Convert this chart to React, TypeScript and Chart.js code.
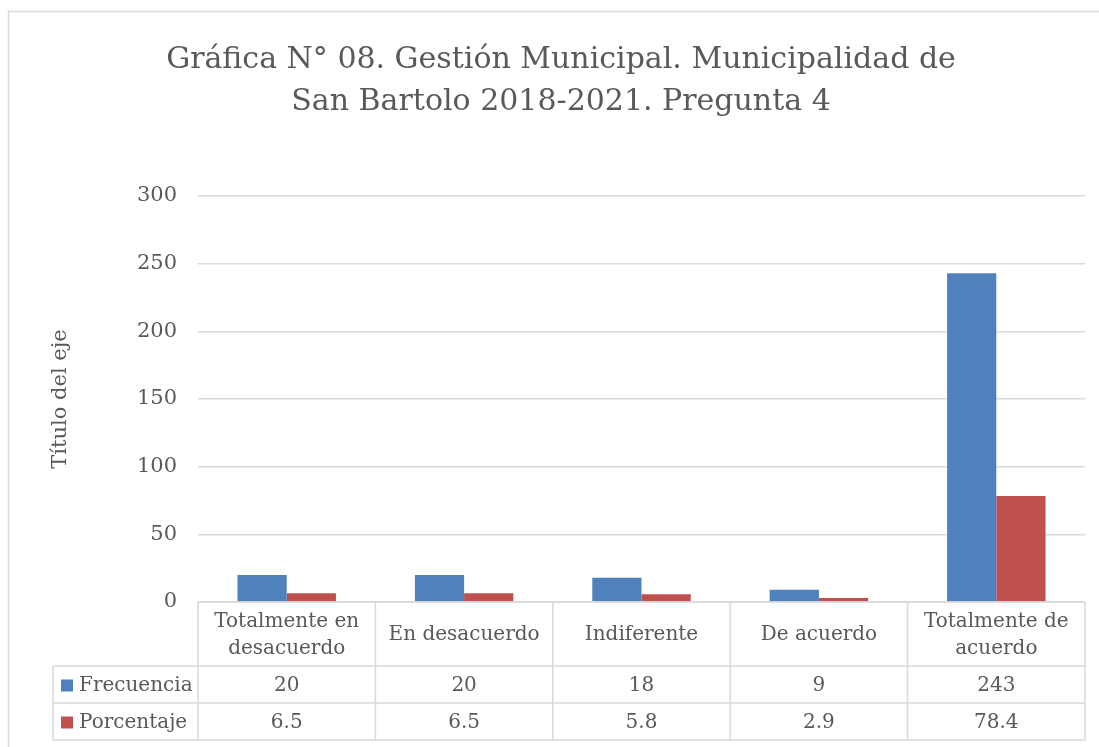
import React, { useEffect, useRef } from "react";
import { Chart, registerables } from "chart.js";
Chart.register(...registerables);

const titleLines = [
  "Gráfica N° 08. Gestión Municipal. Municipalidad de",
  "San Bartolo 2018-2021. Pregunta 4",
];
const categories = [
  "Totalmente en desacuerdo",
  "En desacuerdo",
  "Indiferente",
  "De acuerdo",
  "Totalmente de acuerdo",
];
const seriesNames = ["Frecuencia", "Porcentaje"];
const frecuencia = [20, 20, 18, 9, 243];
const porcentaje = [6.5, 6.5, 5.8, 2.9, 78.4];
const yAxisTitle = "Título del eje";
const yMin = 0;
const yMax = 300;
const yStep = 50;

const FONT = "'DejaVu Serif', serif";
const TEXT = "#595959";
const LINE = "#d9d9d9";
const COLORS = ["#4F81BD", "#C0504D"];

function wrap(ctx: CanvasRenderingContext2D, text: string, maxW: number): string[] {
  const words = text.split(" ");
  const lines: string[] = [];
  let cur = "";
  for (const w of words) {
    const t = cur ? cur + " " + w : w;
    if (ctx.measureText(t).width > maxW && cur) {
      lines.push(cur);
      cur = w;
    } else cur = t;
  }
  if (cur) lines.push(cur);
  return lines;
}

const decorPlugin = {
  id: "decor",
  afterDraw(chart: any) {
    const ctx: CanvasRenderingContext2D = chart.ctx;
    const area = chart.chartArea;
    const xs = chart.scales.x;
    ctx.save();
    // outer border
    ctx.strokeStyle = LINE;
    ctx.lineWidth = 1.5;
    ctx.beginPath();
    ctx.moveTo(8.5, 760);
    ctx.lineTo(8.5, 11.5);
    ctx.lineTo(1120, 11.5);
    ctx.stroke();

    // title
    ctx.fillStyle = TEXT;
    ctx.font = `30px ${FONT}`;
    ctx.textAlign = "center";
    ctx.textBaseline = "alphabetic";
    titleLines.forEach((l, i) => ctx.fillText(l, 561, 68 + i * 42));

    // data table
    const n = categories.length;
    const catW = (area.right - area.left) / n;
    const top = area.bottom;
    const headerH = 64;
    const rowH = 37;
    const legendLeft = 53;
    const bottom = top + headerH + rowH * seriesNames.length;
    ctx.strokeStyle = LINE;
    ctx.lineWidth = 1.5;
    ctx.beginPath();
    // horizontal lines
    ctx.moveTo(area.left, top);
    ctx.lineTo(area.right, top);
    for (let r = 0; r <= seriesNames.length; r++) {
      const y = top + headerH + r * rowH;
      ctx.moveTo(legendLeft, y);
      ctx.lineTo(area.right, y);
    }
    // vertical lines
    ctx.moveTo(legendLeft, top + headerH);
    ctx.lineTo(legendLeft, bottom);
    for (let i = 0; i <= n; i++) {
      const x = area.left + i * catW;
      ctx.moveTo(x, top);
      ctx.lineTo(x, bottom);
    }
    ctx.stroke();

    ctx.font = `20px ${FONT}`;
    ctx.fillStyle = TEXT;
    ctx.textAlign = "center";
    ctx.textBaseline = "middle";
    categories.forEach((c, i) => {
      const cx = xs.getPixelForValue(i);
      const lines = wrap(ctx, c, catW - 12);
      const lh = 27;
      const cy = top + headerH / 2 + 1;
      lines.forEach((l, j) => {
        ctx.fillText(l, cx, cy + (j - (lines.length - 1) / 2) * lh);
      });
    });
    const rows = [frecuencia.map((v) => String(v)), porcentaje.map((v) => v.toFixed(1))];
    rows.forEach((vals, r) => {
      const cy = top + headerH + r * rowH + rowH / 2 + 1;
      vals.forEach((v, i) => {
        ctx.fillStyle = TEXT;
        ctx.textAlign = "center";
        ctx.fillText(v, xs.getPixelForValue(i), cy);
      });
      // legend key
      ctx.fillStyle = COLORS[r];
      ctx.fillRect(61, cy - 6, 12, 12);
      ctx.fillStyle = TEXT;
      ctx.textAlign = "left";
      ctx.fillText(seriesNames[r], 79, cy);
    });
    ctx.restore();
  },
};

export default function App() {
  const ref = useRef<HTMLCanvasElement | null>(null);
  useEffect(() => {
    document.body.style.margin = "0";
    const canvas = ref.current!;
    const chart = new Chart(canvas, {
      type: "bar",
      data: {
        labels: categories,
        datasets: [
          { label: seriesNames[0], data: frecuencia, backgroundColor: COLORS[0], barPercentage: 1, categoryPercentage: 0.555 },
          { label: seriesNames[1], data: porcentaje, backgroundColor: COLORS[1], barPercentage: 1, categoryPercentage: 0.555 },
        ],
      },
      options: {
        responsive: false,
        animation: false,
        devicePixelRatio: 1,
        layout: { padding: { left: 0, top: 196, right: 14, bottom: 145 } },
        plugins: { legend: { display: false }, title: { display: false }, tooltip: { enabled: false } },
        scales: {
          x: { display: false },
          y: {
            min: yMin,
            max: yMax,
            ticks: { stepSize: yStep, padding: 21, color: TEXT, font: { family: FONT, size: 21 } },
            grid: { color: LINE, lineWidth: 1.5, drawTicks: false },
            border: { display: false },
            title: {
              display: true,
              text: yAxisTitle,
              color: TEXT,
              font: { family: FONT, size: 21 },
              padding: { top: 48, bottom: 0 },
            },
            afterFit(scale: any) {
              scale.width = 198;
            },
          },
        },
      },
      plugins: [decorPlugin],
    });
    return () => chart.destroy();
  }, []);
  return (
    <div style={{ width: 1099, height: 747, background: "#fff" }}>
      <canvas ref={ref} width={1099} height={747} style={{ display: "block" }} />
    </div>
  );
}
